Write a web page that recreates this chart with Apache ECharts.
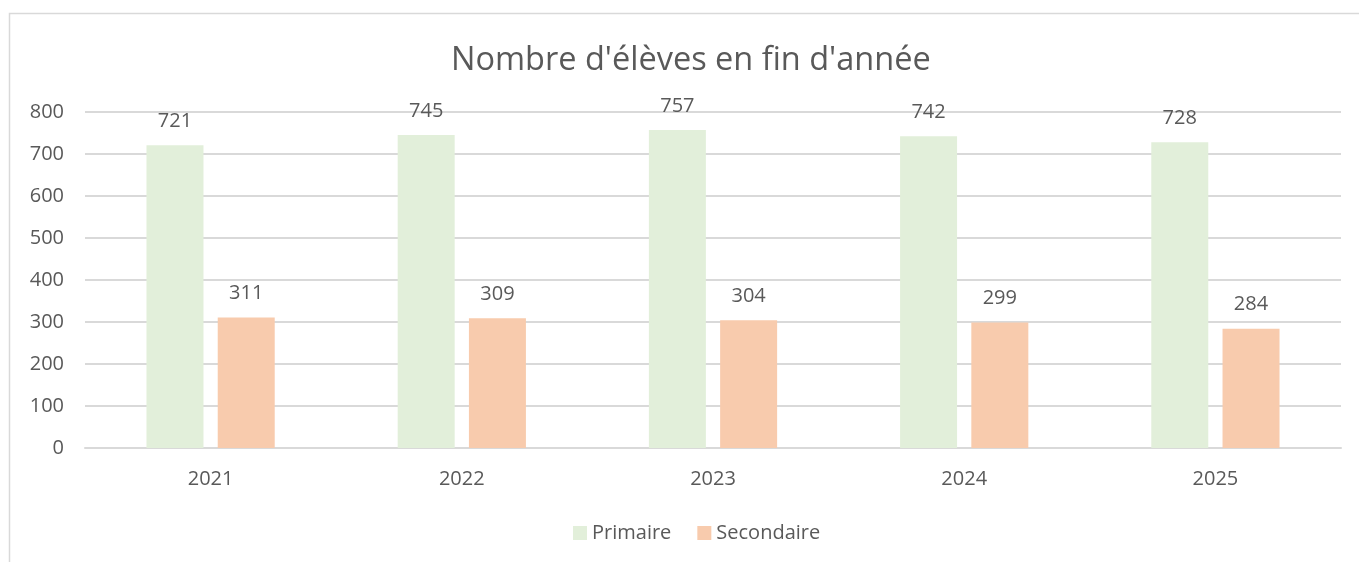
<!DOCTYPE html>
<html>
<head>
<meta charset="utf-8">
<script src="https://cdn.jsdelivr.net/npm/echarts@6/dist/echarts.min.js"></script>
<style>
  html, body { margin: 0; padding: 0; background: #fff; }
  #main { width: 1359px; height: 562px; }
</style>
</head>
<body>
<div id="main"></div>
<script>
// données
const years = ['2021', '2022', '2023', '2024', '2025'];
const primaire = [721, 745, 757, 742, 728];
const secondaire = [311, 309, 304, 299, 284];

const textColor = '#595959';
const font = 'Open Sans';

const chart = echarts.init(document.getElementById('main'));

chart.setOption({
    backgroundColor: '#fff',
    textStyle: { fontFamily: font, color: textColor },
    graphic: [{
        type: 'rect',
        shape: { x: 9.5, y: 13.5, width: 1360, height: 560 },
        style: { fill: 'none', stroke: '#d9d9d9', lineWidth: 1.5 },
        silent: true
    }],
    title: {
        text: "Nombre d'élèves en fin d'année",
        left: 446,
        top: 39,
        textStyle: { fontFamily: font, fontSize: 32.5, fontWeight: 'normal', color: textColor }
    },
    legend: {
        bottom: 14,
        left: 568,
        itemWidth: 14,
        itemHeight: 14,
        itemGap: 26,
        icon: 'rect',
        textStyle: { fontFamily: font, fontSize: 20, color: textColor },
        data: ['Primaire', 'Secondaire']
    },
    grid: { left: 85, right: 18, top: 112, bottom: 114, containLabel: false },
    xAxis: {
        type: 'category',
        data: years,
        axisLine: { lineStyle: { color: '#d9d9d9', width: 2 } },
        axisTick: { show: false },
        axisLabel: { fontFamily: font, fontSize: 20, color: textColor, margin: 21 }
    },
    yAxis: {
        type: 'value',
        min: 0,
        max: 800,
        interval: 100,
        axisLine: { show: false },
        axisTick: { show: false },
        splitLine: { lineStyle: { color: '#d9d9d9', width: 2 } },
        axisLabel: { fontFamily: font, fontSize: 20, color: textColor, margin: 21 }
    },
    series: [{
        name: 'Primaire',
        type: 'bar',
        data: primaire,
        barWidth: 57,
        barGap: '25%',
        itemStyle: { color: '#e2efda' },
        label: { show: true, position: 'top', distance: 14, fontFamily: font, fontSize: 20, color: textColor }
    }, {
        name: 'Secondaire',
        type: 'bar',
        data: secondaire,
        barWidth: 57,
        itemStyle: { color: '#f8cbad' },
        label: { show: true, position: 'top', distance: 14, fontFamily: font, fontSize: 20, color: textColor }
    }]
});
</script>
</body>
</html>
